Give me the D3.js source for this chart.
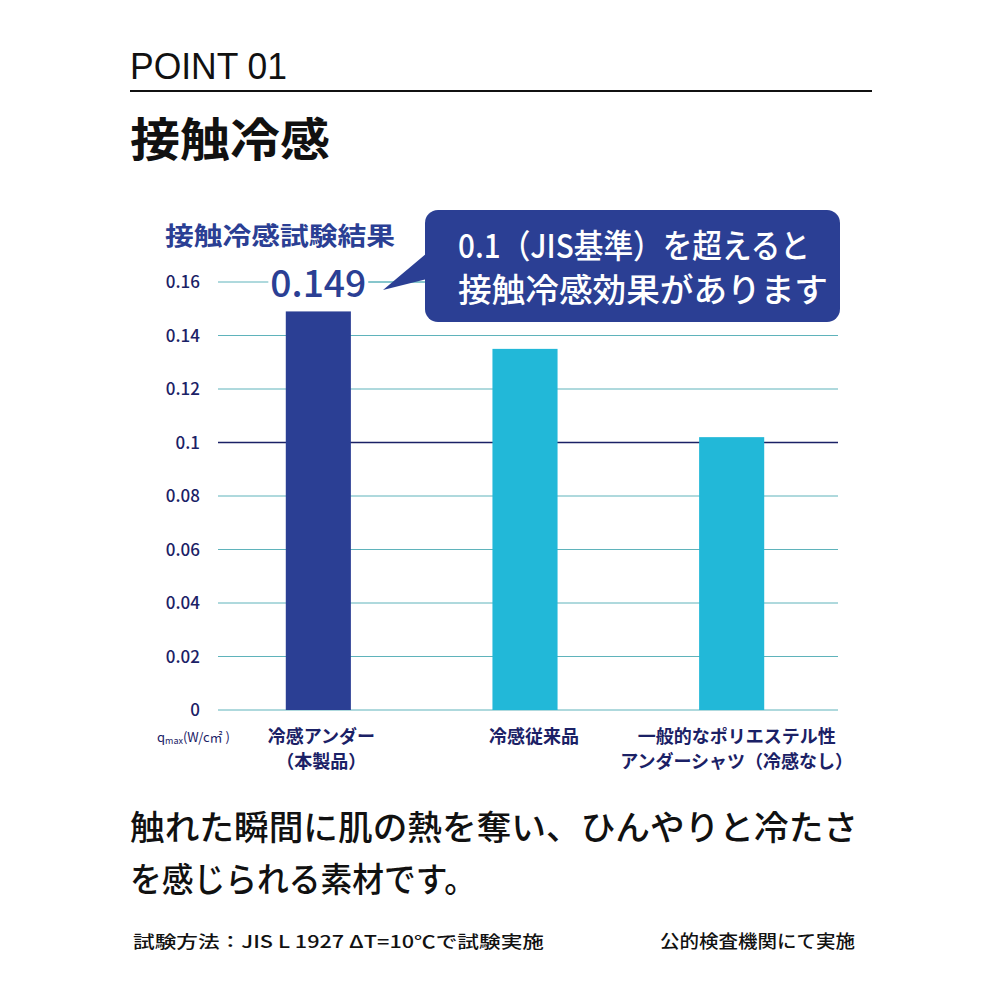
<!DOCTYPE html>
<html lang="ja">
<head>
    <meta charset="UTF-8">
    <title>接触冷感</title>
    <script src="https://cdn.jsdelivr.net/npm/d3@7"></script>
    <style>
        body { margin: 0; background: #fff; }
    </style>
</head>
<body>
<div id="chart"></div>
<script>
    // data
    var categories = ['冷感アンダー', '冷感従来品', '一般的なポリエステル性'];
    var catLines = [['冷感アンダー', '（本製品）'], ['冷感従来品'], ['一般的なポリエステル性', 'アンダーシャツ（冷感なし）']];
    var values = [0.149, 0.135, 0.102];
    var yTicks = [0, 0.02, 0.04, 0.06, 0.08, 0.1, 0.12, 0.14, 0.16];
    var yTickLabels = ['0', '0.02', '0.04', '0.06', '0.08', '0.1', '0.12', '0.14', '0.16'];
    var standard = 0.1;

    var navy = '#2b3f94',
        dark = '#1b2166',
        cyan = '#22b8d8',
        grid = '#5fb3bb';
    var jp = '"Noto Sans CJK JP", "Noto Sans", sans-serif';

    var svg = d3.select('#chart')
            .append('svg')
            .attr('width', 1000)
            .attr('height', 1000);

    // header
    svg.append('text')
            .attr('x', 130).attr('y', 79)
            .attr('font-family', '"Liberation Sans", Arial, sans-serif')
            .attr('font-size', 36)
            .attr('textLength', 157)
            .attr('lengthAdjust', 'spacingAndGlyphs')
            .attr('fill', '#111')
            .text('POINT 01');

    svg.append('line')
            .attr('x1', 130).attr('x2', 872)
            .attr('y1', 91).attr('y2', 91)
            .attr('stroke', '#111')
            .attr('stroke-width', 2);

    svg.append('text')
            .attr('x', 130).attr('y', 156)
            .attr('font-family', jp)
            .attr('font-weight', 700)
            .attr('font-size', 46)
            .attr('textLength', 200)
            .attr('lengthAdjust', 'spacingAndGlyphs')
            .attr('fill', '#111')
            .text('接触冷感');

    // scales
    var y = d3.scaleLinear().domain([0, 0.16]).range([710, 282]);
    var x = d3.scaleBand().domain(categories).range([215, 835])
            .paddingInner(0.685).paddingOuter(0.3425);

    // gridlines
    svg.append('g').selectAll('line')
            .data(yTicks)
            .enter()
            .append('line')
            .attr('x1', 218).attr('x2', 838)
            .attr('y1', function(d){ return y(d); })
            .attr('y2', function(d){ return y(d); })
            .attr('stroke', function(d){ return d === standard ? dark : grid; })
            .attr('stroke-width', function(d){ return d === standard ? 1.6 : 1; });

    // y axis labels
    svg.append('g').selectAll('text')
            .data(yTicks)
            .enter()
            .append('text')
            .attr('x', 200)
            .attr('y', function(d){ return y(d) + 6; })
            .attr('text-anchor', 'end')
            .attr('font-family', jp)
            .attr('font-weight', 500)
            .attr('font-size', 17)
            .attr('fill', dark)
            .text(function(d, i){ return yTickLabels[i]; });

    // bars
    svg.append('g').selectAll('rect')
            .data(values)
            .enter()
            .append('rect')
            .attr('x', function(d, i){ return x(categories[i]); })
            .attr('width', x.bandwidth())
            .attr('y', function(d){ return y(d); })
            .attr('height', function(d){ return y(0) - y(d); })
            .attr('fill', function(d, i){ return i === 0 ? navy : cyan; });

    // category labels (labels sit a little right of the bar centres)
    var nudge = [3, 9, 5];
    var cats = svg.append('g').selectAll('text')
            .data(catLines)
            .enter()
            .append('text')
            .attr('font-family', jp)
            .attr('font-weight', 700)
            .attr('font-size', 18)
            .attr('fill', dark)
            .attr('text-anchor', 'middle');
    cats.each(function(lines, i){
        var cx = x(categories[i]) + x.bandwidth() / 2 + nudge[i];
        lines.forEach(function(l, j){
            d3.select(this).append('tspan')
                    .attr('x', cx)
                    .attr('y', 743 + j * 25)
                    .text(l);
        }, this);
    });

    // unit label
    var unit = svg.append('text')
            .attr('x', 157).attr('y', 742)
            .attr('font-family', jp)
            .attr('font-size', 13)
            .attr('fill', dark);
    unit.append('tspan').text('q');
    unit.append('tspan').attr('font-size', 9).attr('dy', 2).text('max');
    unit.append('tspan').attr('dy', -2).text('(W/c㎡ )');

    // chart title
    svg.append('text')
            .attr('x', 165).attr('y', 245)
            .attr('font-family', jp)
            .attr('font-weight', 700)
            .attr('font-size', 25)
            .attr('textLength', 230)
            .attr('lengthAdjust', 'spacingAndGlyphs')
            .attr('fill', navy)
            .text('接触冷感試験結果');

    // value label for our product
    var vx = x(categories[0]) + x.bandwidth() / 2;
    svg.append('rect')
            .attr('x', vx - 50).attr('y', 266)
            .attr('width', 100).attr('height', 34)
            .attr('fill', '#fff');
    svg.append('line')
            .attr('x1', vx + 50).attr('x2', 425)
            .attr('y1', y(0.16)).attr('y2', y(0.16))
            .attr('stroke', grid);
    svg.append('text')
            .attr('x', vx).attr('y', 297)
            .attr('text-anchor', 'middle')
            .attr('font-family', jp)
            .attr('font-weight', 500)
            .attr('font-size', 37)
            .attr('textLength', 96)
            .attr('lengthAdjust', 'spacingAndGlyphs')
            .attr('fill', navy)
            .text(d3.format('.3f')(values[0]));

    // callout bubble
    svg.append('rect')
            .attr('x', 425).attr('y', 210)
            .attr('width', 415).attr('height', 112)
            .attr('rx', 13)
            .attr('fill', navy);
    svg.append('path')
            .attr('d', 'M427,253 L383,290 L427,279 Z')
            .attr('fill', navy);
    svg.append('text')
            .attr('x', 458).attr('y', 258)
            .attr('font-family', jp)
            .attr('font-weight', 500)
            .attr('font-size', 33)
            .attr('textLength', 352)
            .attr('lengthAdjust', 'spacingAndGlyphs')
            .attr('fill', '#fff')
            .text('0.1（JIS基準）を超えると');
    svg.append('text')
            .attr('x', 458).attr('y', 302)
            .attr('font-family', jp)
            .attr('font-weight', 500)
            .attr('font-size', 33)
            .attr('textLength', 370)
            .attr('lengthAdjust', 'spacingAndGlyphs')
            .attr('fill', '#fff')
            .text('接触冷感効果があります');

    // description
    svg.append('text')
            .attr('x', 130).attr('y', 840)
            .attr('font-family', jp)
            .attr('font-weight', 500)
            .attr('font-size', 34)
            .attr('textLength', 728)
            .attr('lengthAdjust', 'spacingAndGlyphs')
            .attr('fill', '#111')
            .text('触れた瞬間に肌の熱を奪い、ひんやりと冷たさ');
    svg.append('text')
            .attr('x', 130).attr('y', 892)
            .attr('font-family', jp)
            .attr('font-weight', 500)
            .attr('font-size', 34)
            .attr('textLength', 346)
            .attr('lengthAdjust', 'spacingAndGlyphs')
            .attr('fill', '#111')
            .text('を感じられる素材です。');

    // footnotes
    svg.append('text')
            .attr('x', 133).attr('y', 948)
            .attr('font-family', jp)
            .attr('font-weight', 500)
            .attr('font-size', 17)
            .attr('textLength', 411)
            .attr('lengthAdjust', 'spacingAndGlyphs')
            .attr('fill', '#111')
            .text('試験方法：JIS L 1927 ΔT=10℃で試験実施');
    svg.append('text')
            .attr('x', 660).attr('y', 948)
            .attr('font-family', jp)
            .attr('font-weight', 500)
            .attr('font-size', 18)
            .attr('textLength', 195)
            .attr('lengthAdjust', 'spacingAndGlyphs')
            .attr('fill', '#111')
            .text('公的検査機関にて実施');
</script>
</body>
</html>
